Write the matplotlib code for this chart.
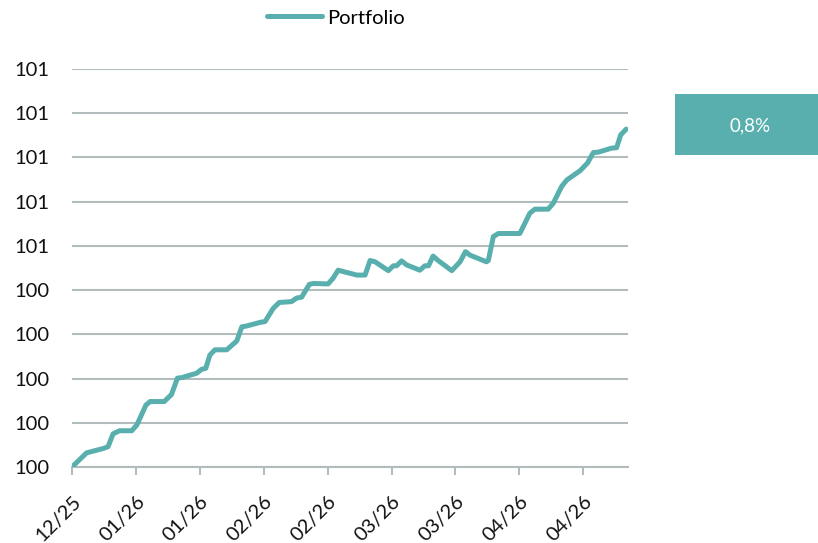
import numpy as np
import matplotlib
matplotlib.use("Agg")
import matplotlib.pyplot as plt
from matplotlib.patches import Rectangle
from matplotlib.ticker import FuncFormatter
from matplotlib.transforms import ScaledTranslation

plt.rcParams['font.family'] = ['Lato', 'DejaVu Sans']

# days since start (12/2025) and portfolio index values
days = [0, 3.2, 6.9, 7.9, 9.0, 10.4, 13.1, 14.2, 16.2, 17.1, 20.2, 21.8, 23.1, 24.0,
        27.3, 28.4, 29.3, 30.2, 31.3, 33.9, 36.1, 37.2, 38.3, 41.2, 42.3, 44.1, 45.4,
        48.1, 49.2, 50.3, 52.0, 52.9, 56.1, 57.2, 58.3, 62.4, 64.2, 65.3, 66.4, 69.3,
        70.4, 71.1, 72.2, 73.3, 76.2, 77.3, 78.1, 79.1, 80.2, 83.2, 85.0, 86.2, 87.2,
        90.8, 91.2, 92.3, 93.4, 98.1, 100.3, 101.4, 104.3, 105.4, 107.3, 108.4, 111.3,
        112.9, 114.2, 115.3, 118.2, 119.3, 120.2, 121.4]
values = [100.000, 100.032, 100.042, 100.046, 100.075, 100.082, 100.082, 100.095,
          100.140, 100.148, 100.148, 100.164, 100.201, 100.202, 100.212, 100.221,
          100.223, 100.253, 100.265, 100.265, 100.285, 100.317, 100.319, 100.327,
          100.329, 100.359, 100.372, 100.374, 100.382, 100.384, 100.413, 100.415,
          100.414, 100.427, 100.445, 100.434, 100.434, 100.467, 100.464, 100.444,
          100.455, 100.455, 100.466, 100.457, 100.445, 100.455, 100.455, 100.477,
          100.467, 100.444, 100.464, 100.487, 100.479, 100.464, 100.467, 100.521,
          100.528, 100.528, 100.574, 100.583, 100.583, 100.596, 100.635, 100.649,
          100.670, 100.687, 100.711, 100.712, 100.721, 100.722, 100.751, 100.764]

tick_days = [0, 14, 28, 42, 56, 70, 84, 98, 112]
tick_labels = ["12/25", "01/26", "01/26", "02/26", "02/26", "03/26", "03/26", "04/26", "04/26"]
y_ticks = [100.0, 100.1, 100.2, 100.3, 100.4, 100.5, 100.6, 100.7, 100.8, 100.9]
series_name = "Portfolio"

teal = "#58AFAE"
grid = "#B3BCBC"
fs = 14.5

fig = plt.figure(figsize=(8.18, 5.43), dpi=100)
ax = fig.add_axes([72/818, 1-467/543, (628-72)/818, (467-69)/543])

ax.plot(days, values, color=teal, lw=3.6, solid_joinstyle='round',
        solid_capstyle='round', label=series_name, zorder=3)

ax.set_xlim(0, 121.8)
ax.set_ylim(y_ticks[0], y_ticks[-1])
ax.set_yticks(y_ticks)
ax.yaxis.set_major_formatter(FuncFormatter(lambda v, p: str(int(np.floor(v + 0.5 + 1e-9)))))
ax.grid(axis='y', color=grid, lw=1.5, zorder=1)
ax.set_xticks(tick_days)
ax.set_xticklabels(tick_labels, rotation=45, ha='right', va='top', rotation_mode='anchor')
offset = ScaledTranslation(6/100, 0, fig.dpi_scale_trans)
for lbl in ax.get_xticklabels():
    lbl.set_transform(lbl.get_transform() + offset)

for s in ['top', 'right', 'left']:
    ax.spines[s].set_visible(False)
ax.spines['bottom'].set_color(grid)
ax.spines['bottom'].set_linewidth(1.5)
ax.tick_params(axis='y', length=0, pad=16.5, labelsize=fs, labelcolor='#111111')
ax.tick_params(axis='x', length=5.5, width=1.5, color=grid, pad=13, labelsize=fs, labelcolor='#111111')

fig.legend(loc='center left', bbox_to_anchor=(267/818, 1-18/543), frameon=False,
           fontsize=fs, handlelength=2.74, handletextpad=0.25, borderpad=0, borderaxespad=0)

change = (values[-1] / values[0] - 1) * 100
fig.patches.append(Rectangle((675/818, 1-155/543), (818-675)/818, 61/543,
                             transform=fig.transFigure, facecolor=teal, edgecolor='none'))
fig.text(750/818, 1-126/543, f"{change:.1f}%".replace('.', ','), color='white',
         ha='center', va='center', fontsize=13.5)

fig.savefig("out.png", dpi=100)
